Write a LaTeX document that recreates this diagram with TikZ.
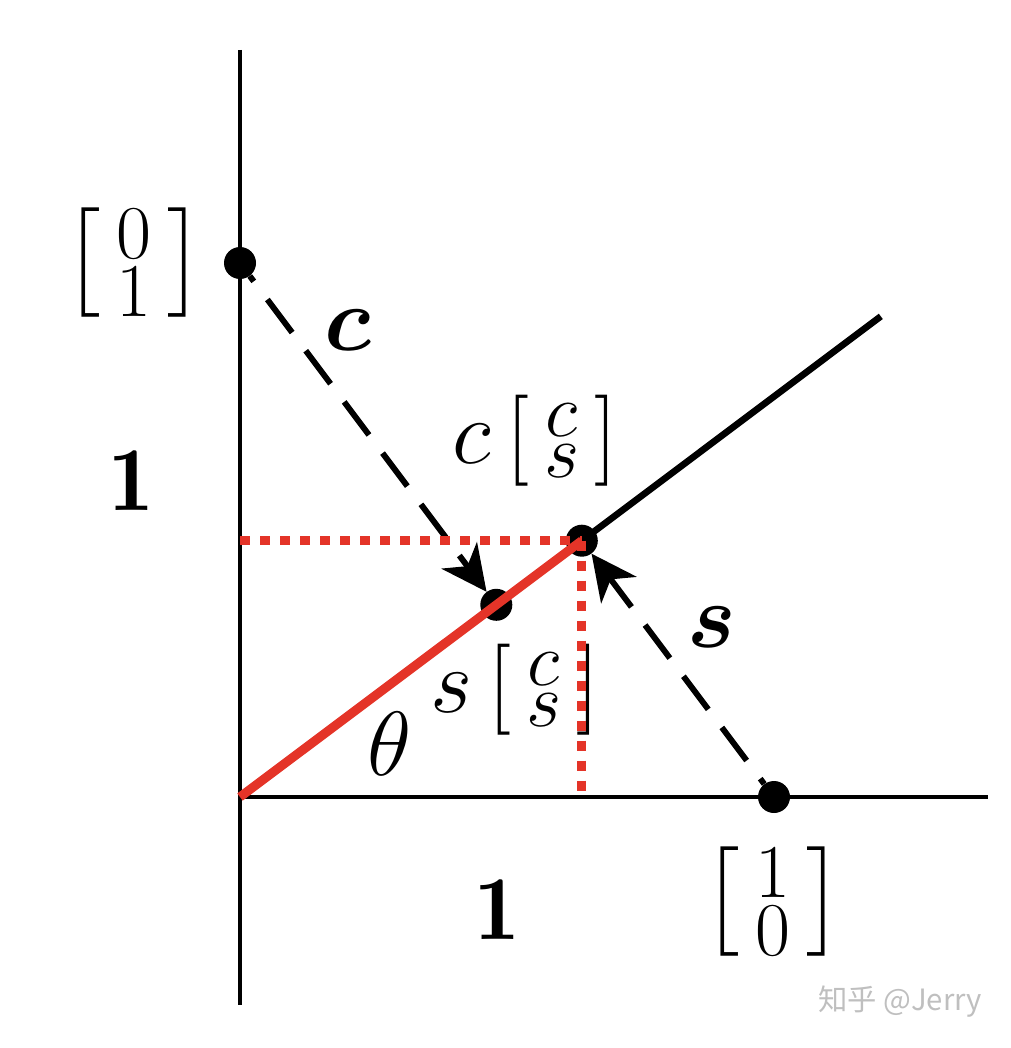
\documentclass[tikz,border=0pt]{standalone}
\usepackage{amsmath}
\usepackage{fontspec}
\newfontfamily\cjkfont{Noto Sans CJK SC}
\usetikzlibrary{arrows.meta}
\definecolor{myred}{RGB}{228,52,40}
\newcommand{\biglbl}[1]{\scalebox{2.75}{\Huge #1}}
\newcommand{\colvec}[2]{\left[\begin{smallmatrix}#1\\#2\end{smallmatrix}\right]}
\tikzset{
  axis/.style={line width=2.3pt, black},
  dotnode/.style={circle, fill=black, inner sep=0pt, minimum size=24pt},
  dashvec/.style={line width=4.4pt, dash pattern=on 31pt off 17pt, -{Stealth[length=34pt, width=33pt, inset=10pt]}},
  redline/.style={line width=6.8pt, myred},
  reddot/.style={line width=7pt, myred, dash pattern=on 7.5pt off 7.5pt},
  lbl/.style={inner sep=0pt},
}
\begin{document}
\begin{tikzpicture}[x=0.75pt, y=-0.75pt]
\useasboundingbox (0,0) rectangle (1010,1048);
% axes
\coordinate (ytop) at (240,50);
\coordinate (ybot) at (240,1005);
\coordinate (xl) at (238,797);
\coordinate (xr) at (988,797);
\draw[axis] (ytop) -- (ybot);
\draw[axis] (xl) -- (xr);
% points
\coordinate (O) at (240,797);
\coordinate (Py) at (240,540.7);
\coordinate (Px) at (581.8,797);
\coordinate (End) at (880.8,316.4);
\node[dotnode] (e2) at (240,263) {};
\node[dotnode] (e1) at (774,797) {};
\node[dotnode] (P) at (581.8,540.7) {};
\node[dotnode] (Q) at (496.3,604.8) {};
% labels
\node[lbl] (l01) at (134,263) {\biglbl{$\colvec{0}{1}$}};
\node[lbl] (l10) at (773,902) {\biglbl{$\colvec{1}{0}$}};
\node[lbl] (lc) at (348,330) {\biglbl{$\boldsymbol{c}$}};
\node[lbl] (ls) at (712,627) {\biglbl{$\boldsymbol{s}$}};
\node[lbl] (one1) at (131,481) {\biglbl{$\mathbf{1}$}};
\node[lbl] (one2) at (497,910) {\biglbl{$\mathbf{1}$}};
\node[lbl] (lcP) at (535,441) {\biglbl{$c\colvec{c}{s}$}};
\node[lbl] (lsQ) at (515,690) {\biglbl{$s\colvec{c}{s}$}};
\node[lbl] (th) at (390,744) {\biglbl{$\theta$}};
\node[inner sep=0pt, text=black!25, font=\cjkfont\fontsize{22}{26}\selectfont] (wm) at (900,1002) {知乎 @Jerry};
% black ray
\draw[line width=5pt] (P.center) -- (End);
% dashed vectors
\draw[dashvec, dash phase=-22pt] (e2) -- (Q);
\draw[dashvec, dash phase=-22pt] (e1) -- (P);
% red dotted
\draw[reddot] (Py) -- (P.center);
\draw[reddot] (P.center) -- (Px);
% red line
\draw[redline] (O) -- (P.center);
\end{tikzpicture}
\end{document}
